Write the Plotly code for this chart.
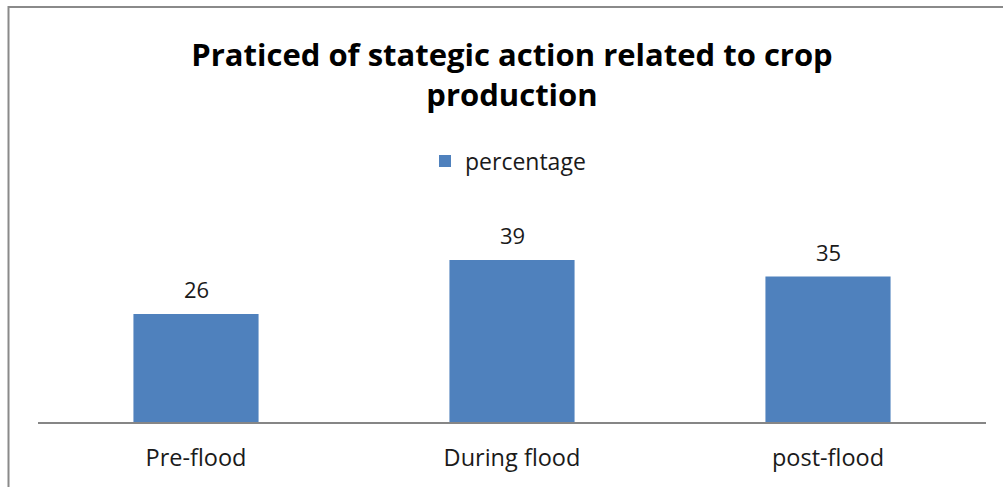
import plotly.graph_objects as go

categories = ["Pre-flood", "During flood", "post-flood"]
percentage = [26, 39, 35]

W, H = 1003, 487
ML, MR, MT, MB = 38, W - 986, 235, H - 422
Y_MAX = 45
FONT = "Open Sans"
TEXT_COLOR = "#1a1a1a"

fig = go.Figure()
fig.add_trace(go.Bar(
    x=categories,
    y=percentage,
    name="percentage",
    marker=dict(color="#4F81BD", line=dict(width=0)),
    width=0.396,
    showlegend=True,
))

# value labels above each bar
for cat, val in zip(categories, percentage):
    fig.add_annotation(
        x=cat, y=val, xref="x", yref="y",
        text=str(val), showarrow=False,
        yanchor="bottom", yshift=8,
        font=dict(family=FONT, size=22, color=TEXT_COLOR),
    )

# chart border in paper coordinates derived from the margins
pw = W - ML - MR
ph = H - MT - MB
def px_to_paper_x(px):
    return (px - ML) / pw
def px_to_paper_y(py):
    return (H - MB - py) / ph

fig.add_shape(
    type="rect", xref="paper", yref="paper",
    x0=px_to_paper_x(8.5), x1=px_to_paper_x(1010),
    y0=px_to_paper_y(495), y1=px_to_paper_y(7),
    line=dict(color="#8a8a8a", width=2), fillcolor="rgba(0,0,0,0)",
    layer="below",
)

fig.update_layout(
    width=W, height=H,
    margin=dict(l=ML, r=MR, t=MT, b=MB),
    paper_bgcolor="white", plot_bgcolor="white",
    title=dict(
        text="<b>Praticed of stategic action related to crop<br>production</b>",
        x=0.5, xanchor="center", xref="paper",
        y=1 - 66 / H, yanchor="top",
        font=dict(family=FONT, size=31, color="#000000"),
    ),
    legend=dict(
        orientation="h", x=px_to_paper_x(425), xanchor="left",
        y=px_to_paper_y(161), yanchor="middle",
        font=dict(family=FONT, size=23, color=TEXT_COLOR),
        itemsizing="constant", itemwidth=30,
        bgcolor="rgba(0,0,0,0)",
    ),
    bargap=0.604,
    xaxis=dict(
        showline=True, linecolor="#868686", linewidth=1.5,
        ticks="", showgrid=False, ticklabelstandoff=14,
        tickfont=dict(family=FONT, size=23.5, color=TEXT_COLOR),
    ),
    yaxis=dict(
        range=[0, Y_MAX], visible=False, showgrid=False, zeroline=False,
    ),
)

fig.write_html("out.html")
